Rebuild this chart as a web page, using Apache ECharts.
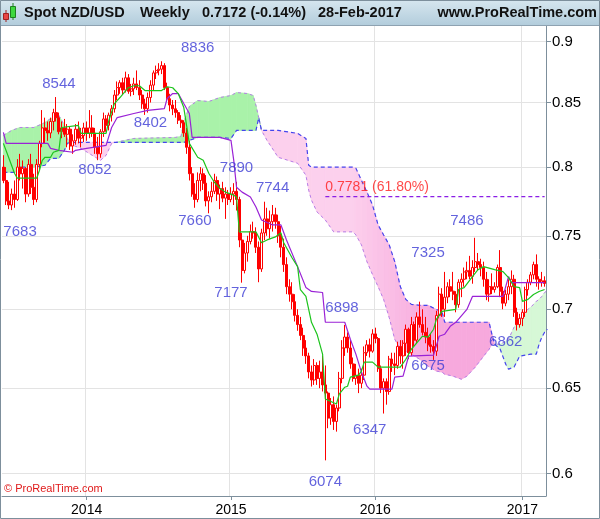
<!DOCTYPE html>
<html><head><meta charset="utf-8">
<script src="https://cdn.jsdelivr.net/npm/echarts@6/dist/echarts.min.js"></script>
<style>html,body{margin:0;padding:0;background:#fff}#c{width:600px;height:519px}</style>
</head><body><div id="c"></div>
<script>
// ---------- DATA ----------
const firstWeek = '2013-06-03';
// weekly candles: [open, close, low, high]
const ohlc = [
[.8000,.7900,.7880,.8090],[.7900,.7750,.7720,.8000],[.7750,.7720,.7690,.7890],[.7720,.7800,.7683,.7840],
[.7800,.7760,.7700,.7900],[.7760,.8000,.7750,.8060],[.8000,.7950,.7900,.8100],[.7950,.7990,.7840,.8050],
[.7990,.7800,.7740,.8000],[.7800,.8020,.7780,.8060],[.8020,.7850,.7800,.8100],[.7850,.7760,.7720,.7950],
[.7760,.8020,.7740,.8060],[.8020,.8180,.7980,.8200],[.8180,.8300,.8150,.8440],[.8300,.8280,.8180,.8380],
[.8280,.8260,.8200,.8350],[.8260,.8350,.8220,.8380],[.8350,.8420,.8280,.8450],[.8420,.8380,.8350,.8544],
[.8380,.8270,.8250,.8420],[.8270,.8300,.8220,.8350],[.8300,.8250,.8230,.8370],[.8250,.8290,.8150,.8330],
[.8290,.8160,.8130,.8310],[.8160,.8200,.8100,.8250],[.8200,.8290,.8170,.8330],[.8290,.8220,.8180,.8350],
[.8220,.8240,.8150,.8300],[.8240,.8300,.8190,.8340],[.8300,.8260,.8200,.8350],[.8260,.8300,.8220,.8440],
[.8300,.8260,.8230,.8400],[.8260,.8150,.8100,.8300],[.8150,.8100,.8052,.8230],[.8100,.8270,.8070,.8290],
[.8270,.8370,.8230,.8420],[.8370,.8320,.8270,.8400],[.8320,.8400,.8280,.8420],[.8400,.8450,.8350,.8480],
[.8450,.8560,.8420,.8600],[.8560,.8620,.8520,.8670],[.8620,.8660,.8570,.8680],[.8660,.8600,.8560,.8700],
[.8600,.8700,.8580,.8750],[.8700,.8590,.8570,.8730],[.8590,.8610,.8550,.8650],[.8610,.8650,.8560,.8700],
[.8650,.8620,.8600,.8760],[.8620,.8560,.8520,.8680],[.8560,.8490,.8450,.8600],[.8490,.8450,.8402,.8530],
[.8450,.8540,.8420,.8580],[.8540,.8640,.8500,.8680],[.8640,.8740,.8600,.8760],[.8740,.8760,.8690,.8800],
[.8760,.8770,.8720,.8820],[.8770,.8800,.8730,.8836],[.8800,.8620,.8600,.8820],[.8620,.8530,.8510,.8660],
[.8530,.8480,.8430,.8570],[.8480,.8450,.8400,.8520],[.8450,.8420,.8380,.8520],[.8420,.8360,.8330,.8440],
[.8360,.8340,.8300,.8400],[.8340,.8260,.8230,.8360],[.8260,.8150,.8100,.8300],[.8150,.7950,.7900,.8200],
[.7950,.7800,.7780,.8000],[.7800,.7760,.7700,.7880],[.7760,.7900,.7740,.7960],[.7900,.7950,.7820,.8000],
[.7950,.7880,.7830,.7990],[.7880,.7750,.7710,.7940],[.7750,.7780,.7660,.7820],[.7780,.7820,.7740,.7890],
[.7820,.7900,.7800,.7950],[.7900,.7800,.7750,.7930],[.7800,.7840,.7690,.7870],[.7840,.7770,.7740,.7890],
[.7770,.7800,.7620,.7850],[.7800,.7760,.7720,.7830],[.7760,.7800,.7740,.7850],[.7800,.7820,.7720,.7880],
[.7820,.7760,.7680,.7890],[.7760,.7470,.7420,.7780],[.7470,.7260,.7177,.7520],[.7260,.7380,.7240,.7450],
[.7380,.7460,.7320,.7500],[.7460,.7530,.7440,.7580],[.7530,.7520,.7480,.7600],[.7520,.7420,.7380,.7560],
[.7420,.7270,.7180,.7460],[.7270,.7520,.7250,.7550],[.7520,.7620,.7470,.7744],[.7620,.7550,.7500,.7700],
[.7550,.7600,.7480,.7680],[.7600,.7650,.7530,.7720],[.7650,.7600,.7550,.7700],[.7600,.7500,.7450,.7650],
[.7500,.7420,.7350,.7570],[.7420,.7300,.7250,.7480],[.7300,.7150,.7100,.7350],[.7150,.7100,.7050,.7200],
[.7100,.7050,.7000,.7180],[.7050,.6960,.6920,.7100],[.6960,.6900,.6860,.7000],[.6900,.6830,.6800,.6950],
[.6830,.6750,.6700,.6880],[.6750,.6700,.6650,.6800],[.6700,.6600,.6560,.6720],[.6600,.6550,.6510,.6640],
[.6550,.6640,.6520,.6680],[.6640,.6560,.6520,.6660],[.6560,.6600,.6500,.6670],[.6600,.6520,.6480,.6700],
[.6520,.6470,.6074,.6640],[.6470,.6320,.6260,.6480],[.6320,.6400,.6280,.6440],[.6400,.6300,.6250,.6450],
[.6300,.6380,.6240,.6400],[.6380,.6560,.6360,.6600],[.6560,.6750,.6530,.6800],[.6750,.6820,.6700,.6898],
[.6820,.6750,.6720,.6850],[.6750,.6650,.6620,.6800],[.6650,.6560,.6540,.6690],[.6560,.6580,.6520,.6650],
[.6580,.6530,.6470,.6620],[.6530,.6580,.6500,.6620],[.6580,.6720,.6550,.6760],[.6720,.6770,.6700,.6800],
[.6770,.6730,.6690,.6810],[.6730,.6840,.6720,.6870],[.6840,.6810,.6780,.6880],[.6810,.6620,.6600,.6820],
[.6620,.6500,.6470,.6640],[.6500,.6540,.6347,.6560],[.6540,.6480,.6400,.6560],[.6480,.6680,.6460,.6700],
[.6680,.6650,.6600,.6720],[.6650,.6640,.6580,.6720],[.6640,.6760,.6620,.6790],[.6760,.6700,.6650,.6800],
[.6700,.6780,.6620,.6800],[.6780,.6870,.6700,.6900],[.6870,.6720,.6680,.6880],[.6720,.6900,.6700,.6950],
[.6900,.6800,.6760,.6920],[.6800,.6950,.6780,.6980],[.6950,.6900,.6880,.7050],[.6900,.6850,.6830,.7000],
[.6850,.6820,.6780,.6950],[.6820,.6770,.6730,.6880],[.6770,.6760,.6720,.6840],[.6760,.6730,.6675,.6800],
[.6730,.6960,.6700,.6990],[.6960,.7100,.6940,.7150],[.7100,.7000,.6950,.7140],[.7000,.7080,.6950,.7250],
[.7080,.7150,.7040,.7180],[.7150,.7120,.7080,.7200],[.7120,.7100,.7060,.7250],[.7100,.7030,.6980,.7120],
[.7030,.7180,.7010,.7200],[.7180,.7200,.7080,.7240],[.7200,.7250,.7150,.7280],[.7250,.7260,.7200,.7320],
[.7260,.7220,.7200,.7360],[.7220,.7280,.7170,.7330],[.7280,.7320,.7250,.7486],[.7320,.7300,.7260,.7380],
[.7300,.7280,.7220,.7340],[.7280,.7200,.7150,.7320],[.7200,.7100,.7060,.7250],[.7100,.7150,.7050,.7200],
[.7150,.7130,.7100,.7240],[.7130,.7150,.7110,.7180],[.7150,.7280,.7140,.7300],[.7280,.7120,.7080,.7400],
[.7120,.7040,.7000,.7150],[.7040,.7100,.7020,.7130],[.7100,.7150,.7060,.7200],[.7150,.7200,.7100,.7260],
[.7200,.6980,.6950,.7230],[.6980,.6900,.6862,.7010],[.6900,.6940,.6880,.6970],[.6940,.6980,.6890,.7000],
[.6980,.7130,.6950,.7150],[.7130,.7180,.7090,.7200],[.7180,.7230,.7160,.7250],[.7230,.7300,.7200,.7320],
[.7300,.7200,.7150,.7370],[.7200,.7180,.7130,.7220],[.7180,.7190,.7150,.7250],[.7190,.7172,.7150,.7220]
];
// Tenkan-sen (green) read at [week index, price]
const tenkan = [[0,.8180],[2,.8066],[4,.7954],[5,.7917],[12,.7917],[13,.7976],[14,.8051],[15,.8074],[17,.8074],[18,.8112],
[20,.8127],[21,.8303],[27,.8319],[28,.8257],[37,.8257],[38,.8358],[40,.8492],[42,.8540],[45,.8619],[47,.8635],[49,.8635],
[51,.8596],[57,.8596],[59,.8627],[61,.8619],[63,.8572],[65,.8460],[66,.8319],[67,.8180],[70,.8074],[72,.8051],[74,.7954],
[76,.7887],[78,.7843],[80,.7814],[83,.7792],[84,.7778],[85,.7528],[91,.7528],[93,.7451],[95,.7471],[98,.7492],[100,.7521],
[101,.7451],[104,.7347],[106,.7286],[107,.7131],[109,.7085],[111,.6915],[113,.6838],[115,.6711],[116,.6434],[120,.6404],
[121,.6464],[123,.6506],[124,.6512],[125,.6568],[128,.6580],[129,.6605],[130,.6661],[133,.6661],[135,.6630],[143,.6630],
[145,.6679],[147,.6742],[151,.6825],[153,.6819],[155,.6870],[156,.6934],[158,.6986],[163,.6999],[164,.7131],[166,.7144],
[169,.7218],[171,.7265],[173,.7286],[177,.7265],[180,.7252],[182,.7211],[184,.7151],[186,.7144],[187,.7052],[189,.7065],
[191,.7098],[193,.7118],[195,.7131]];
// Kijun-sen (purple)
const kijun = [[0,.8265],[1,.8180],[16,.8180],[17,.8142],[20,.8127],[25,.8112],[26,.8127],[30,.8142],[37,.8165],[39,.8303],
[41,.8381],[47,.8413],[52,.8437],[58,.8452],[59,.8532],[61,.8572],[63,.8572],[65,.8492],[67,.8413],[68,.8226],[78,.8226],
[82,.8203],[83,.8051],[84,.7850],[86,.7814],[89,.7778],[91,.7706],[93,.7612],[97,.7577],[100,.7577],[102,.7471],[106,.7286],
[109,.7144],[111,.7118],[115,.7111],[116,.6915],[123,.6915],[125,.6806],[127,.6711],[129,.6599],[131,.6512],[132,.6494],
[140,.6494],[141,.6568],[144,.6574],[146,.6698],[155,.6705],[157,.6825],[159,.6838],[161,.6889],[163,.6915],[167,.6999],
[169,.7085],[180,.7085],[182,.7218],[183,.7178],[195,.7178]];
// Ichimoku cloud: week index, Senkou span A (lavender), Senkou span B (blue)
const cloudWeek = [0,3,5,6,11,15,17,20,22,23,24,28,32,35,37,39,42,47,62,64,65,67,70,74,78,82,84,88,90,91,92,93,95,99,106,109,
110,111,113,116,119,126,127,129,131,133,135,137,139,141,143,145,147,150,153,156,158,159,162,165,167,170,173,175,176,177,
179,181,182,184,186,188,190,192,193,194,195,196];
const spanA = [.8242,.8280,.8296,.8303,.8303,.8342,.8373,.8397,.8319,.8218,.8173,.8142,.8089,.8051,.8089,.8180,.8195,.8218,.8226,.8234,
.8342,.8468,.8516,.8508,.8540,.8556,.8580,.8572,.8556,.8476,.8380,.8280,.8203,.8074,.8029,.7939,.7829,.7756,.7670,.7612,.7528,.7528,
.7506,.7437,.7320,.7232,.7151,.7065,.6947,.6806,.6742,.6729,.6711,.6679,.6636,.6605,.6599,.6586,.6574,.6555,.6574,.6630,.6698,.6742,
.6774,.6774,.6774,.6793,.6806,.6883,.6934,.6986,.7013,.7052,.7065,.7085,.7111,.7125];
const spanB = [.7961,.7961,.7961,.7999,.7999,.8014,.8066,.8066,.8127,.8180,.8188,.8188,.8188,.8188,.8188,.8188,.8188,.8188,.8188,.8188,
.8188,.8203,.8226,.8226,.8226,.8218,.8280,.8280,.8280,.8280,.8380,.8280,.8280,.8280,.8257,.8218,.8014,.7999,.7999,.7999,.7999,.7999,
.7991,.7902,.7814,.7720,.7577,.7506,.7437,.7320,.7151,.7065,.7032,.7026,.7026,.6999,.6986,.6915,.6915,.6915,.6915,.6915,.6915,.6915,
.6838,.6774,.6742,.6648,.6617,.6630,.6698,.6705,.6711,.6711,.6774,.6819,.6851,.6870];
// x-axis year ticks and y-axis price ticks
const yearTickWeeks = ['2013-12-30','2014-12-29','2015-12-28','2017-01-02'];
const yearTickLabels = ['2014','2015','2016','2017'];
const priceTicks = [0.6,0.65,0.7,0.75,0.8,0.85,0.9];
// annotations: [week index, price, text]
const notes = [[20,.8651,'8544'],[70,.8949,'8836'],[53,.8342,'8402'],[33,.7976,'8052'],[6,.7528,'7683'],[69,.7605,'7660'],
[84,.7991,'7890'],[97,.7843,'7744'],[82,.7111,'7177'],[122,.7006,'6898'],[116,.5955,'6074'],[132,.6248,'6347'],
[153,.6636,'6675'],[153,.7380,'7325'],[167,.7605,'7486'],[181,.6787,'6862']];
const fibLevel = 0.7781, fibText = '0.7781 (61.80%)', fibStartWeek = 116;
const lastWeek = 195;

// ---------- BUILD ----------
const weeks = ohlc.map((_, k) => { const d = new Date(Date.UTC(2013, 5, 3 + 7 * k)); return d.toISOString().slice(0, 10); });
const yearIdx = yearTickWeeks.map(w => weeks.indexOf(w));
const isYear = (i) => yearIdx.indexOf(i) >= 0;

const cloudSegs = [];
for (let k = 0; k < cloudWeek.length - 1; k++) {
  cloudSegs.push([cloudWeek[k], spanA[k], spanB[k], cloudWeek[k + 1], spanA[k + 1], spanB[k + 1]]);
}
// cloud tones: bright in the past, paler toward the right for green; pink deepens toward the lower part
function greenTone(w) { const t = Math.min(1, Math.max(0, (w - 160) / 20)); return echarts.color.lerp(t, ['#a9f2a9', '#d6f8d6']); }
function pinkTone(w) { const t = Math.min(1, Math.max(0, (w - 125) / 30)); return echarts.color.lerp(t, ['#fcd0ed', '#f7a9dd']); }
function poly(points, fill) {
  return { type: 'polygon', shape: { points }, style: { fill, stroke: fill, lineWidth: 0.8 } };
}
function renderCloud(params, api) {
  const i0 = api.value(0), a0 = api.value(1), b0 = api.value(2), i1 = api.value(3), a1 = api.value(4), b1 = api.value(5);
  const A0 = api.coord([i0, a0]), B0 = api.coord([i0, b0]), A1 = api.coord([i1, a1]), B1 = api.coord([i1, b1]);
  const d0 = a0 - b0, d1 = a1 - b1;
  const wm = (i0 + i1) / 2;
  const col = (up) => up ? greenTone(wm) : pinkTone(wm);
  const children = [];
  if (d0 * d1 >= 0) {
    children.push(poly([A0, A1, B1, B0], col(d0 + d1 >= 0)));
  } else {
    const t = (B0[1] - A0[1]) / ((A1[1] - A0[1]) - (B1[1] - B0[1]));
    const X = [A0[0] + t * (A1[0] - A0[0]), A0[1] + t * (A1[1] - A0[1])];
    children.push(poly([A0, X, B0], col(d0 > 0)));
    children.push(poly([X, A1, B1], col(d1 > 0)));
  }
  return { type: 'group', children };
}

const chart = echarts.init(document.getElementById('c'), null, { renderer: 'canvas' });
const axisCol = '#7d8f9c', gridCol = '#e3e3e3';
const hdrFont = 'bold 14.5px "Liberation Sans"';
const option = {
  animation: false,
  backgroundColor: '#fff',
  grid: { left: 2, right: 54, top: 25, bottom: 23, containLabel: false },
  xAxis: {
    type: 'category', data: weeks, boundaryGap: true,
    axisLine: { show: true, lineStyle: { color: axisCol, width: 1 } },
    axisTick: { show: true, alignWithLabel: true, interval: (i) => isYear(i), length: 4, lineStyle: { color: axisCol } },
    axisLabel: { interval: (i) => isYear(i), formatter: (v, i) => yearTickLabels[yearIdx.indexOf(i)] || '', color: '#000',
      fontSize: 14, fontFamily: 'Liberation Sans', margin: 7 },
    splitLine: { show: true, interval: (i) => isYear(i), lineStyle: { color: gridCol } }
  },
  yAxis: {
    type: 'log', logBase: 10, position: 'right', min: 0.5874, max: 0.9142, scale: true,
    axisLine: { show: true, lineStyle: { color: axisCol, width: 1 } },
    axisTick: { show: true, inside: false, length: 5, customValues: priceTicks, lineStyle: { color: axisCol } },
    axisLabel: { customValues: priceTicks, formatter: (v) => String(+(+v).toFixed(2)), color: '#000', fontSize: 15,
      fontFamily: 'Liberation Sans', margin: 6 },
    splitLine: { show: true, lineStyle: { color: gridCol } },
    minorTick: { show: false }
  },
  series: [
    { type: 'custom', name: 'cloud', renderItem: renderCloud, data: cloudSegs, encode: { x: [0, 3], y: [1, 2, 4, 5] }, z: 1, silent: true, clip: true },
    { type: 'line', name: 'spanA', data: cloudWeek.map((w, k) => [w, spanA[k]]), symbol: 'none', z: 2,
      lineStyle: { color: '#b57ee6', width: 1, type: [3, 3] } },
    { type: 'line', name: 'spanB', data: cloudWeek.map((w, k) => [w, spanB[k]]), symbol: 'none', z: 2,
      lineStyle: { color: '#4545ee', width: 1.2, type: [4, 3] } },
    { type: 'candlestick', name: 'NZD/USD', data: ohlc, barWidth: 2.5, z: 3,
      itemStyle: { color: '#ffffff', color0: '#ff0000', borderColor: '#ff0000', borderColor0: '#ff0000', borderWidth: 1 } },
    { type: 'line', name: 'kijun', data: kijun, symbol: 'none', z: 4, lineStyle: { color: '#9a22d6', width: 1.2 } },
    { type: 'line', name: 'tenkan', data: tenkan, symbol: 'none', z: 4, lineStyle: { color: '#1cc41c', width: 1.2 } },
    { type: 'line', name: 'fib', data: [[fibStartWeek, fibLevel], [lastWeek, fibLevel]], symbol: 'none', z: 4,
      lineStyle: { color: '#8a1ee6', width: 1.2, type: [4, 3] } },
    { type: 'scatter', name: 'notes', z: 6, symbolSize: 1, itemStyle: { color: 'rgba(0,0,0,0)' }, silent: true,
      data: notes.map(n => ({ value: [n[0], n[1]], name: n[2] })),
      label: { show: true, position: 'inside', formatter: '{b}', color: '#3c3cd4', fontSize: 15, fontFamily: 'Liberation Sans' } },
    { type: 'scatter', name: 'fibnote', z: 6, symbolSize: 1, itemStyle: { color: 'rgba(0,0,0,0)' }, silent: true,
      data: [{ value: [fibStartWeek, 0.7850], name: fibText }],
      label: { show: true, position: 'inside', align: 'left', formatter: '{b}', color: '#ff1a1a', fontSize: 14, fontFamily: 'Liberation Sans' } }
  ],
  graphic: [
    { type: 'rect', left: 0, top: 0, shape: { width: 600, height: 25 }, z: 10,
      style: { fill: new echarts.graphic.LinearGradient(0, 0, 0, 1, [{ offset: 0, color: '#d6e6ef' }, { offset: 1, color: '#b3cddc' }]) } },
    { type: 'line', shape: { x1: 0, y1: 25.5, x2: 600, y2: 25.5 }, style: { stroke: '#8ea2b1', lineWidth: 1 }, z: 11 },
    { type: 'rect', shape: { x: 3.5, y: 13.5, width: 5, height: 6 }, style: { fill: '#e84545', stroke: '#a02020', lineWidth: 1 }, z: 12 },
    { type: 'line', shape: { x1: 6, y1: 10, x2: 6, y2: 22 }, style: { stroke: '#a02020', lineWidth: 1 }, z: 11 },
    { type: 'rect', shape: { x: 10.5, y: 6.5, width: 5, height: 11 }, style: { fill: '#3ed83e', stroke: '#208020', lineWidth: 1 }, z: 12 },
    { type: 'line', shape: { x1: 13, y1: 3, x2: 13, y2: 20 }, style: { stroke: '#208020', lineWidth: 1 }, z: 11 },
    { type: 'text', left: 24, top: 5, z: 12, style: { text: 'Spot NZD/USD', font: hdrFont, fill: '#111' } },
    { type: 'text', left: 140, top: 5, z: 12, style: { text: 'Weekly', font: hdrFont, fill: '#111' } },
    { type: 'text', left: 202, top: 5, z: 12, style: { text: '0.7172 (-0.14%)', font: hdrFont, fill: '#111' } },
    { type: 'text', left: 318, top: 5, z: 12, style: { text: '28-Feb-2017', font: hdrFont, fill: '#111' } },
    { type: 'text', right: 3, top: 5, z: 12, style: { text: 'www.ProRealTime.com', font: hdrFont, fill: '#111' } },
    { type: 'text', left: 4, top: 483, z: 12, style: { text: '© ProRealTime.com', font: '11px "Liberation Sans"', fill: '#e01a1a' } },
    { type: 'rect', shape: { x: 0.5, y: 0.5, width: 599, height: 518 }, style: { fill: null, stroke: '#7d8f9c', lineWidth: 1 }, z: 13 }
  ]
};
chart.setOption(option);
</script>
</body></html>
